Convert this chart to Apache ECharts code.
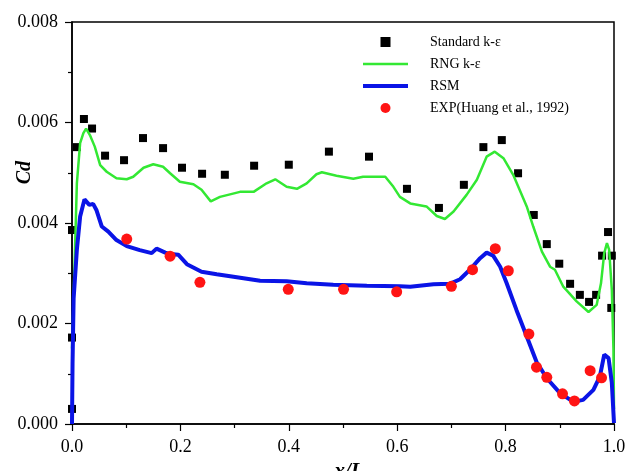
<!DOCTYPE html>
<html><head><meta charset="utf-8">
<script src="https://cdn.jsdelivr.net/npm/echarts@6/dist/echarts.min.js"></script>
<style>html,body{margin:0;padding:0;background:#fff}#c{width:625px;height:471px}</style>
</head><body><div id="c"></div>
<script>
// Standard k-epsilon (squares)
const stdX = [0.0, 0.0, 0.0, 0.009, 0.022, 0.037, 0.061, 0.096, 0.131, 0.168, 0.203, 0.240, 0.282, 0.336, 0.400, 0.474, 0.548, 0.618, 0.677, 0.723, 0.759, 0.793, 0.823, 0.852, 0.876, 0.899, 0.919, 0.937, 0.954, 0.967, 0.978, 0.989, 0.996, 0.995];
const stdY = [0.0003, 0.00172, 0.00386, 0.00551, 0.00607, 0.00588, 0.00534, 0.00525, 0.00569, 0.00549, 0.00510, 0.00498, 0.00496, 0.00514, 0.00516, 0.00542, 0.00532, 0.00468, 0.00430, 0.00476, 0.00551, 0.00565, 0.00499, 0.00416, 0.00358, 0.00319, 0.00279, 0.00257, 0.00243, 0.00257, 0.00335, 0.00382, 0.00335, 0.00231];
// RNG k-epsilon (green line)
const rngX = [0, 0.003, 0.009, 0.015, 0.021, 0.026, 0.033, 0.042, 0.052, 0.064, 0.082, 0.101, 0.113, 0.132, 0.150, 0.168, 0.181, 0.199, 0.224, 0.239, 0.256, 0.273, 0.310, 0.335, 0.359, 0.375, 0.396, 0.415, 0.433, 0.451, 0.461, 0.488, 0.519, 0.537, 0.578, 0.593, 0.605, 0.624, 0.654, 0.673, 0.688, 0.704, 0.728, 0.747, 0.765, 0.780, 0.796, 0.814, 0.839, 0.851, 0.867, 0.882, 0.891, 0.906, 0.931, 0.953, 0.968, 0.976, 0.982, 0.987, 0.991, 0.996, 0.999, 1.0];
const rngY = [0.0015, 0.0025, 0.00479, 0.00559, 0.00579, 0.00588, 0.00575, 0.00552, 0.00515, 0.00502, 0.00489, 0.00487, 0.00492, 0.00510, 0.00517, 0.00512, 0.00499, 0.00482, 0.00477, 0.00466, 0.00443, 0.00452, 0.00462, 0.00462, 0.00479, 0.00487, 0.00472, 0.00468, 0.00479, 0.00497, 0.00501, 0.00494, 0.00488, 0.00492, 0.00492, 0.00472, 0.00452, 0.00439, 0.00433, 0.00414, 0.00408, 0.00423, 0.00456, 0.00486, 0.00532, 0.00542, 0.00529, 0.00496, 0.00433, 0.00393, 0.00343, 0.00313, 0.00307, 0.00274, 0.00244, 0.00223, 0.00237, 0.00280, 0.00340, 0.00360, 0.00347, 0.00267, 0.00148, 0.0003];
// RSM (blue line)
const rsmX = [0, 0.001, 0.003, 0.009, 0.015, 0.023, 0.032, 0.039, 0.045, 0.055, 0.067, 0.082, 0.101, 0.125, 0.147, 0.156, 0.172, 0.178, 0.196, 0.212, 0.239, 0.267, 0.298, 0.347, 0.396, 0.433, 0.482, 0.544, 0.605, 0.624, 0.667, 0.697, 0.716, 0.734, 0.753, 0.765, 0.777, 0.790, 0.802, 0.820, 0.839, 0.857, 0.876, 0.900, 0.925, 0.943, 0.962, 0.974, 0.982, 0.990, 0.996, 1.0];
const rsmY = [0, 0.0012, 0.0025, 0.00347, 0.00413, 0.00447, 0.00436, 0.00438, 0.00426, 0.00393, 0.00383, 0.00366, 0.00354, 0.00346, 0.00340, 0.00349, 0.00341, 0.00339, 0.00337, 0.00318, 0.00303, 0.00298, 0.00293, 0.00285, 0.00284, 0.00280, 0.00277, 0.00275, 0.00274, 0.00273, 0.00278, 0.00279, 0.00288, 0.00307, 0.00330, 0.00341, 0.00335, 0.00313, 0.00280, 0.00227, 0.00174, 0.00124, 0.00091, 0.00062, 0.00044, 0.00048, 0.00068, 0.00095, 0.00138, 0.00131, 0.00082, 0.00002];
// EXP (Huang et al., 1992) red dots
const expX = [0.101, 0.181, 0.236, 0.399, 0.501, 0.599, 0.700, 0.739, 0.781, 0.805, 0.843, 0.857, 0.876, 0.905, 0.927, 0.956, 0.977];
const expY = [0.00368, 0.00334, 0.00282, 0.00268, 0.00268, 0.00263, 0.00274, 0.00307, 0.00349, 0.00305, 0.00179, 0.00113, 0.00093, 0.00060, 0.00046, 0.00106, 0.00092];

const seriesNames = ['Standard k-ε', 'RNG k-ε', 'RSM', 'EXP(Huang et al., 1992)'];
const xTicks = [0, 0.2, 0.4, 0.6, 0.8, 1.0];
const yTicks = [0, 0.002, 0.004, 0.006, 0.008];

const zip = (a, b) => a.map((v, i) => [v, b[i]]);
const FONT = '"Liberation Serif", "Times New Roman", serif';

const chart = echarts.init(document.getElementById('c'), null, {renderer: 'canvas'});
chart.setOption({
  animation: false,
  backgroundColor: '#fff',
  grid: {left: 72, right: 11, top: 22, bottom: 47, containLabel: false, outerBoundsMode: 'none', show: true, borderColor: '#000', borderWidth: 1.5, backgroundColor: 'transparent'},
  xAxis: {
    type: 'value', min: xTicks[0], max: xTicks[xTicks.length - 1], interval: 0.2,
    name: 'x/L', nameLocation: 'middle', nameGap: 22,
    nameTextStyle: {fontFamily: FONT, fontSize: 21, fontWeight: 'bold', fontStyle: 'italic', color: '#000', padding: [0, 0, 0, 12]},
    axisLine: {show: true, lineStyle: {color: '#000', width: 1.5}},
    axisTick: {show: true, inside: false, length: 7, lineStyle: {color: '#000', width: 1.2}},
    minorTick: {show: true, splitNumber: 2, length: 4, lineStyle: {color: '#000', width: 1.2}},
    splitLine: {show: false},
    axisLabel: {margin: 14, fontFamily: FONT, fontSize: 18, color: '#000', formatter: v => v.toFixed(1)}
  },
  yAxis: {
    type: 'value', min: yTicks[0], max: yTicks[yTicks.length - 1], interval: 0.002,
    axisLine: {show: true, lineStyle: {color: '#000', width: 1.5}},
    axisTick: {show: true, inside: false, length: 7, lineStyle: {color: '#000', width: 1.2}},
    minorTick: {show: true, splitNumber: 2, length: 4, lineStyle: {color: '#000', width: 1.2}},
    splitLine: {show: false},
    axisLabel: {margin: 14, fontFamily: FONT, fontSize: 18, color: '#000', formatter: v => v.toFixed(3)}
  },
  graphic: [{
    type: 'text', left: 15, top: 161, rotation: Math.PI / 2,
    style: {text: 'Cd', fontFamily: FONT, fontSize: 20, fontWeight: 'bold', fontStyle: 'italic', fill: '#000'}
  }],
  legend: {
    orient: 'vertical', left: 363, top: 35, padding: 0,
    itemWidth: 45, itemHeight: 10, itemGap: 8,
    textStyle: {fontFamily: FONT, fontSize: 14, color: '#000', padding: [0, 0, 0, 17]},
    data: [
      {name: seriesNames[0], icon: 'path://M0,0 h10 v10 h-10 z', itemStyle: {opacity: 1}},
      {name: seriesNames[1], icon: 'path://M0,0 h45 v2.6 h-45 z', itemStyle: {color: '#33e833', opacity: 1}},
      {name: seriesNames[2], icon: 'path://M0,0 h45 v4 h-45 z', itemStyle: {color: '#0a14e6', opacity: 1}},
      {name: seriesNames[3], icon: 'circle', itemStyle: {opacity: 1}}
    ]
  },
  series: [
    {name: seriesNames[0], type: 'scatter', symbol: 'rect', symbolSize: 8, itemStyle: {color: '#000', opacity: 1}, data: zip(stdX, stdY), z: 2},
    {name: seriesNames[1], type: 'line', symbol: 'none', showSymbol: false, lineStyle: {color: '#33e833', width: 2.5}, itemStyle: {color: '#33e833'}, data: zip(rngX, rngY), z: 3},
    {name: seriesNames[2], type: 'line', symbol: 'none', showSymbol: false, lineStyle: {color: '#0a14e6', width: 4}, itemStyle: {color: '#0a14e6'}, data: zip(rsmX, rsmY), z: 4},
    {name: seriesNames[3], type: 'scatter', symbol: 'circle', symbolSize: 11, itemStyle: {color: '#ff1414', opacity: 1}, data: zip(expX, expY), z: 5}
  ]
});
</script></body></html>
